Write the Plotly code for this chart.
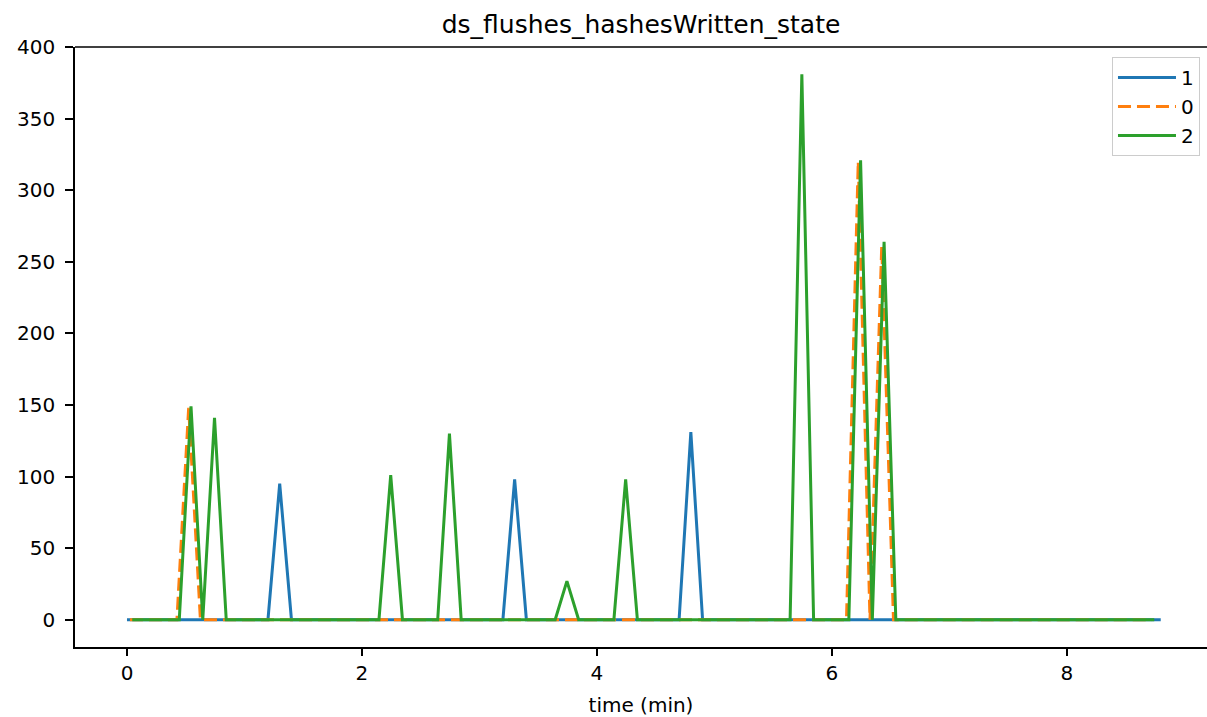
import plotly.graph_objects as go

title_text = "ds_flushes_hashesWritten_state"
x_label = "time (min)"
series_names = ["1", "0", "2"]
colors = ["#1f77b4", "#ff7f0e", "#2ca02c"]

# series "1": sampled at 0.0, 0.1, ... 8.8
time_1 = [0.0, 0.1, 0.2, 0.3, 0.4, 0.5, 0.6, 0.7, 0.8, 0.9,
          1.0, 1.1, 1.2, 1.3, 1.4, 1.5, 1.6, 1.7, 1.8, 1.9,
          2.0, 2.1, 2.2, 2.3, 2.4, 2.5, 2.6, 2.7, 2.8, 2.9,
          3.0, 3.1, 3.2, 3.3, 3.4, 3.5, 3.6, 3.7, 3.8, 3.9,
          4.0, 4.1, 4.2, 4.3, 4.4, 4.5, 4.6, 4.7, 4.8, 4.9,
          5.0, 5.1, 5.2, 5.3, 5.4, 5.5, 5.6, 5.7, 5.8, 5.9,
          6.0, 6.1, 6.2, 6.3, 6.4, 6.5, 6.6, 6.7, 6.8, 6.9,
          7.0, 7.1, 7.2, 7.3, 7.4, 7.5, 7.6, 7.7, 7.8, 7.9,
          8.0, 8.1, 8.2, 8.3, 8.4, 8.5, 8.6, 8.7, 8.8]
values_1 = [0, 0, 0, 0, 0, 0, 0, 0, 0, 0,
            0, 0, 0, 95, 0, 0, 0, 0, 0, 0,
            0, 0, 0, 0, 0, 0, 0, 0, 0, 0,
            0, 0, 0, 98, 0, 0, 0, 0, 0, 0,
            0, 0, 0, 0, 0, 0, 0, 0, 131, 0,
            0, 0, 0, 0, 0, 0, 0, 0, 0, 0,
            0, 0, 0, 0, 0, 0, 0, 0, 0, 0,
            0, 0, 0, 0, 0, 0, 0, 0, 0, 0,
            0, 0, 0, 0, 0, 0, 0, 0, 0]

# series "0"
time_0 = [0.025, 0.125, 0.225, 0.325, 0.425, 0.525, 0.625, 0.725, 0.825, 0.925,
          1.025, 1.125, 1.225, 1.325, 1.425, 1.525, 1.625, 1.725, 1.825, 1.925,
          2.025, 2.125, 2.225, 2.325, 2.425, 2.525, 2.625, 2.725, 2.825, 2.925,
          3.025, 3.125, 3.225, 3.325, 3.425, 3.525, 3.625, 3.725, 3.825, 3.925,
          4.025, 4.125, 4.225, 4.325, 4.425, 4.525, 4.625, 4.725, 4.825, 4.925,
          5.025, 5.125, 5.225, 5.325, 5.425, 5.525, 5.625, 5.725, 5.825, 5.925,
          6.025, 6.125, 6.225, 6.325, 6.425, 6.525, 6.625, 6.725, 6.825, 6.925,
          7.025, 7.125, 7.225, 7.325, 7.425, 7.525, 7.625, 7.725, 7.825, 7.925,
          8.025, 8.125, 8.225, 8.325, 8.425, 8.525, 8.625, 8.725]
values_0 = [0, 0, 0, 0, 0, 148, 0, 0, 0, 0,
            0, 0, 0, 0, 0, 0, 0, 0, 0, 0,
            0, 0, 0, 0, 0, 0, 0, 0, 0, 0,
            0, 0, 0, 0, 0, 0, 0, 0, 0, 0,
            0, 0, 0, 0, 0, 0, 0, 0, 0, 0,
            0, 0, 0, 0, 0, 0, 0, 0, 0, 0,
            0, 0, 320, 0, 261, 0, 0, 0, 0, 0,
            0, 0, 0, 0, 0, 0, 0, 0, 0, 0,
            0, 0, 0, 0, 0, 0, 0, 0]

# series "2"
time_2 = [0.045, 0.145, 0.245, 0.345, 0.445, 0.545, 0.645, 0.745, 0.845, 0.945,
          1.045, 1.145, 1.245, 1.345, 1.445, 1.545, 1.645, 1.745, 1.845, 1.945,
          2.045, 2.145, 2.245, 2.345, 2.445, 2.545, 2.645, 2.745, 2.845, 2.945,
          3.045, 3.145, 3.245, 3.345, 3.445, 3.545, 3.645, 3.745, 3.845, 3.945,
          4.045, 4.145, 4.245, 4.345, 4.445, 4.545, 4.645, 4.745, 4.845, 4.945,
          5.045, 5.145, 5.245, 5.345, 5.445, 5.545, 5.645, 5.745, 5.845, 5.945,
          6.045, 6.145, 6.245, 6.345, 6.445, 6.545, 6.645, 6.745, 6.845, 6.945,
          7.045, 7.145, 7.245, 7.345, 7.445, 7.545, 7.645, 7.745, 7.845, 7.945,
          8.045, 8.145, 8.245, 8.345, 8.445, 8.545, 8.645, 8.745]
values_2 = [0, 0, 0, 0, 0, 149, 0, 141, 0, 0,
            0, 0, 0, 0, 0, 0, 0, 0, 0, 0,
            0, 0, 101, 0, 0, 0, 0, 130, 0, 0,
            0, 0, 0, 0, 0, 0, 0, 27, 0, 0,
            0, 0, 98, 0, 0, 0, 0, 0, 0, 0,
            0, 0, 0, 0, 0, 0, 0, 381, 0, 0,
            0, 0, 321, 0, 264, 0, 0, 0, 0, 0,
            0, 0, 0, 0, 0, 0, 0, 0, 0, 0,
            0, 0, 0, 0, 0, 0, 0, 0]

x_ticks = [0, 2, 4, 6, 8]
y_ticks = [0, 50, 100, 150, 200, 250, 300, 350, 400]

fig = go.Figure()
fig.add_trace(go.Scatter(x=time_1, y=values_1, mode="lines", name=series_names[0],
                         line=dict(color=colors[0], width=3)))
fig.add_trace(go.Scatter(x=time_0, y=values_0, mode="lines", name=series_names[1],
                         line=dict(color=colors[1], width=3, dash="13px,6px")))
fig.add_trace(go.Scatter(x=time_2, y=values_2, mode="lines", name=series_names[2],
                         line=dict(color=colors[2], width=3)))

font_family = "DejaVu Sans, sans-serif"
fig.update_layout(
    width=1207, height=717,
    margin=dict(l=75, r=0, t=47, b=70),
    paper_bgcolor="white", plot_bgcolor="white",
    font=dict(family=font_family, size=20, color="black"),
    title=dict(text=title_text, x=0.5, xanchor="center", xref="paper",
               y=1 - 24 / 717, yanchor="middle", font=dict(size=25)),
    showlegend=True,
    legend=dict(x=0.9938, y=0.9833, xanchor="right", yanchor="top",
                bgcolor="rgba(255,255,255,0.8)", bordercolor="#cccccc", borderwidth=1,
                font=dict(size=20), itemwidth=58),
    xaxis=dict(range=[-0.4426, 9.194], tickvals=x_ticks, ticks="outside", ticklen=7,
               tickwidth=1.6, tickcolor="black", showline=True, linecolor="black",
               linewidth=1.6, mirror=False, showgrid=False, zeroline=False,
               title=dict(text=x_label, font=dict(size=20), standoff=14),
               tickfont=dict(size=20)),
    yaxis=dict(range=[-19.05, 400.05], tickvals=y_ticks, ticks="outside", ticklen=8,
               tickwidth=1.6, tickcolor="black", showline=True, linecolor="black",
               linewidth=1.6, mirror=False, showgrid=False, zeroline=False,
               tickfont=dict(size=20), ticklabelstandoff=6),
    shapes=[dict(type="line", xref="paper", yref="paper", x0=0, x1=1, y0=1, y1=1,
                 line=dict(color="black", width=1.6))],
)

fig.write_html(
    "out.html",
    config={"displayModeBar": False},
    post_script="document.body.style.margin='0px';document.documentElement.style.overflow='hidden';",
)
